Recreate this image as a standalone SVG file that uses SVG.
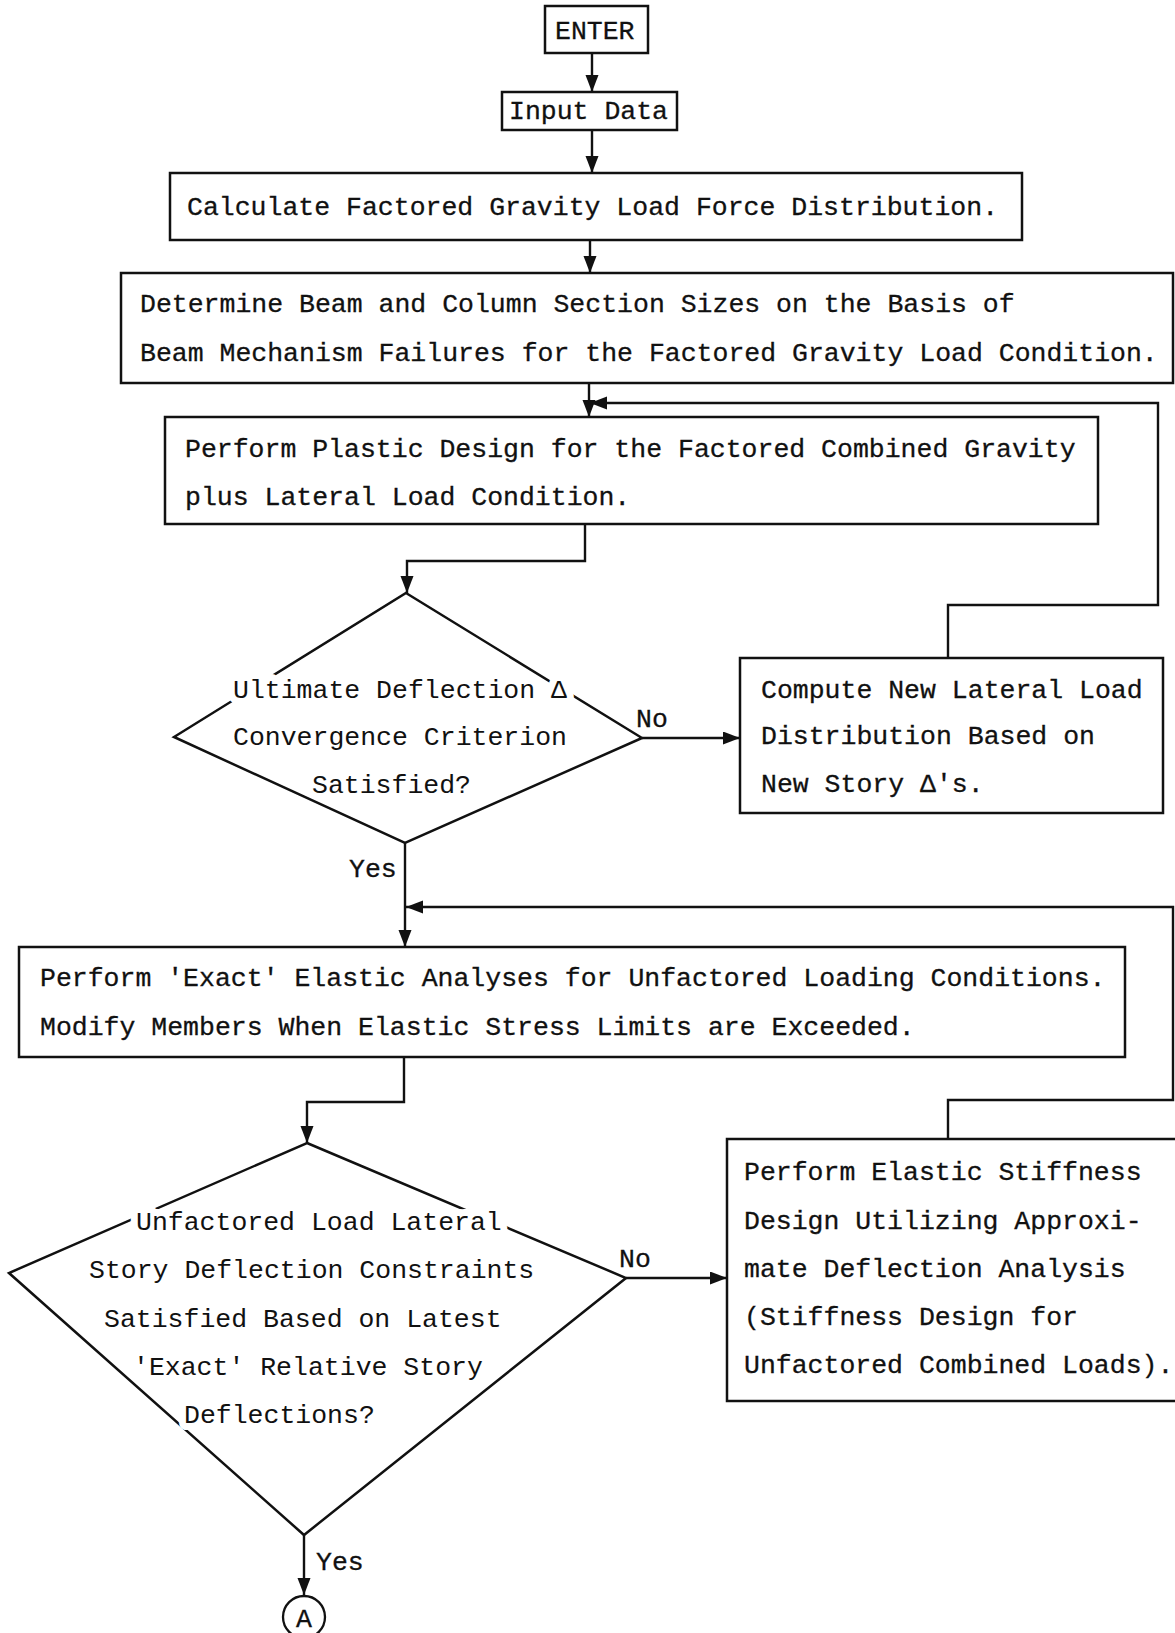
<svg xmlns="http://www.w3.org/2000/svg" width="1175" height="1633" viewBox="0 0 1175 1633">
  <style>
    .box { fill: #fff; stroke: #111; stroke-width: 2.5; }
    .dia { fill: none; stroke: #111; stroke-width: 2.5; stroke-linejoin: miter; }
    .conn { fill: none; stroke: #111; stroke-width: 2.4; }
    text { font-family: "Liberation Mono", "DejaVu Sans Mono", monospace; font-size: 26.5px; fill: #111; stroke: #111; stroke-width: 0.3; }
    .halo { stroke: #fff; stroke-width: 14; stroke-linejoin: round; paint-order: stroke; }
  </style>
  <defs>
    <marker id="arrow" markerUnits="userSpaceOnUse" markerWidth="18" markerHeight="14" refX="17" refY="6.5" orient="auto">
      <path d="M0,0 L17,6.5 L0,13 Z" fill="#111"/>
    </marker>
  </defs>
  <rect width="1175" height="1633" fill="#fff"/>

  <!-- connectors -->
  <g id="connectors">
    <path class="conn" d="M592,53 V92" marker-end="url(#arrow)"/>
    <path class="conn" d="M592,130 V173" marker-end="url(#arrow)"/>
    <path class="conn" d="M590,240 V273" marker-end="url(#arrow)"/>
    <path class="conn" d="M589,383 V417" marker-end="url(#arrow)"/>
    <path class="conn" d="M948,658 V605 H1158 V403 H590" marker-end="url(#arrow)"/>
    <path class="conn" d="M585,524 V561 H407 V593" marker-end="url(#arrow)"/>
    <path class="conn" d="M642,738 H740" marker-end="url(#arrow)"/>
    <path class="conn" d="M405,843 V947" marker-end="url(#arrow)"/>
    <path class="conn" d="M948,1139 V1100 H1173 V907 H406" marker-end="url(#arrow)"/>
    <path class="conn" d="M404,1057 V1102 H307 V1143" marker-end="url(#arrow)"/>
    <path class="conn" d="M626,1278 H727" marker-end="url(#arrow)"/>
    <path class="conn" d="M304,1535 V1595" marker-end="url(#arrow)"/>
  </g>

  <g id="enter">
    <rect class="box" x="545" y="6" width="103" height="47"/>
    <text x="555" y="39">ENTER</text>
  </g>

  <g id="input-data">
    <rect class="box" x="502" y="92" width="175" height="38"/>
    <text x="509" y="119">Input Data</text>
  </g>

  <g id="gravity-load">
    <rect class="box" x="170" y="173" width="852" height="67"/>
    <text x="187" y="215">Calculate Factored Gravity Load Force Distribution.</text>
  </g>

  <g id="section-sizes">
    <rect class="box" x="121" y="273" width="1052" height="110"/>
    <text x="140" y="312">Determine Beam and Column Section Sizes on the Basis of</text>
    <text x="140" y="361">Beam Mechanism Failures for the Factored Gravity Load Condition.</text>
  </g>

  <g id="plastic-design">
    <rect class="box" x="165" y="417" width="933" height="107"/>
    <text x="185" y="457">Perform Plastic Design for the Factored Combined Gravity</text>
    <text x="185" y="505">plus Lateral Load Condition.</text>
  </g>

  <g id="convergence-check">
    <polygon class="dia" points="406,593 642,738 405,843 174,737"/>
    <text class="halo" x="233" y="698">Ultimate Deflection Δ</text>
    <text class="halo" x="233" y="745">Convergence Criterion</text>
    <text class="halo" x="312" y="793">Satisfied?</text>
    <text x="636" y="727">No</text>
    <text x="349" y="877">Yes</text>
  </g>

  <g id="lateral-load">
    <rect class="box" x="740" y="658" width="423" height="155"/>
    <text x="761" y="698">Compute New Lateral Load</text>
    <text x="761" y="744">Distribution Based on</text>
    <text x="761" y="792">New Story Δ's.</text>
  </g>

  <g id="elastic-analysis">
    <rect class="box" x="19" y="947" width="1106" height="110"/>
    <text x="40" y="986">Perform 'Exact' Elastic Analyses for Unfactored Loading Conditions.</text>
    <text x="40" y="1035">Modify Members When Elastic Stress Limits are Exceeded.</text>
  </g>

  <g id="deflection-check">
    <polygon class="dia" points="307,1143 626,1278 304,1535 9,1273"/>
    <text class="halo" x="136" y="1230">Unfactored Load Lateral</text>
    <text class="halo" x="89" y="1278">Story Deflection Constraints</text>
    <text class="halo" x="104" y="1327">Satisfied Based on Latest</text>
    <text class="halo" x="133" y="1375">'Exact' Relative Story</text>
    <text class="halo" x="184" y="1423">Deflections?</text>
    <text x="619" y="1267">No</text>
    <text x="316" y="1570">Yes</text>
  </g>

  <g id="stiffness-design">
    <rect class="box" x="727" y="1139" width="460" height="262"/>
    <text x="744" y="1180">Perform Elastic Stiffness</text>
    <text x="744" y="1229">Design Utilizing Approxi-</text>
    <text x="744" y="1277">mate Deflection Analysis</text>
    <text x="744" y="1325">(Stiffness Design for</text>
    <text x="744" y="1373">Unfactored Combined Loads).</text>
  </g>

  <g id="connector-a">
    <circle cx="304" cy="1617" r="21" fill="#fff" stroke="#111" stroke-width="2.3"/>
    <text x="304" y="1627" text-anchor="middle">A</text>
  </g>
</svg>
